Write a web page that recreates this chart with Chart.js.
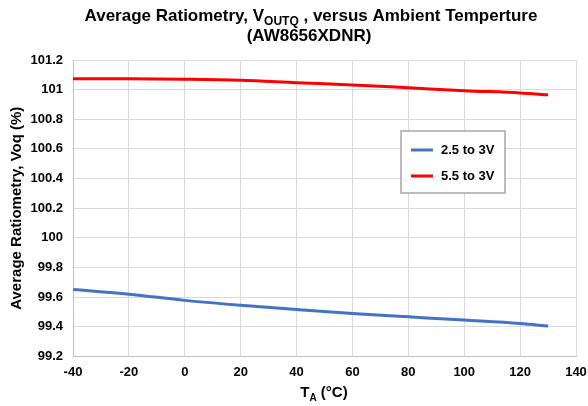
<!DOCTYPE html>
<html>
<head>
<meta charset="utf-8">
<script src="https://cdn.jsdelivr.net/npm/chart.js@4"></script>
<style>
  html, body { margin: 0; padding: 0; background: #fff; }
  #wrap { width: 588px; height: 406px; position: relative; }
</style>
</head>
<body>
<div id="wrap"><canvas id="ratioChart"></canvas></div>
<script>
// temperatures (°C) where the curves were read
const temps = [-40, -20, 0, 20, 40, 60, 80, 100, 120, 130];
const low = [99.651, 99.62, 99.578, 99.545, 99.516, 99.489, 99.467, 99.445, 99.422, 99.405];
const high = [101.074, 101.073, 101.07, 101.063, 101.047, 101.032, 101.013, 100.993, 100.978, 100.965];
const seriesNames = ['2.5 to 3V', '5.5 to 3V'];
const seriesColors = ['#4472c4', '#ff0000'];

const FONT = '"Liberation Sans", Arial, sans-serif';

function pts(ys) {
    return temps.map((t, i) => ({ x: t, y: ys[i] }));
}

// title + x axis title (need subscripts), and the boxed legend inside the plot
const extras = {
    id: 'extras',
    afterDraw(chart) {
        const ctx = chart.ctx;
        ctx.save();
        ctx.fillStyle = '#000';
        ctx.textBaseline = 'alphabetic';

        // title line 1 with subscript
        const parts = [
            { t: 'Average Ratiometry, V', f: 'bold 17px ' + FONT, dy: 0 },
            { t: 'OUTQ', f: 'bold 12px ' + FONT, dy: 4 },
            { t: ' , versus Ambient Temperture', f: 'bold 17px ' + FONT, dy: 0 }
        ];
        let w = 0;
        parts.forEach(p => { ctx.font = p.f; p.w = ctx.measureText(p.t).width; w += p.w; });
        let x = 311 - w / 2;
        parts.forEach(p => {
            ctx.font = p.f;
            ctx.textAlign = 'left';
            ctx.fillText(p.t, x, 21 + p.dy);
            x += p.w;
        });
        ctx.font = 'bold 17px ' + FONT;
        ctx.textAlign = 'center';
        ctx.fillText('(AW8656XDNR)', 309, 41);

        // x axis title T_A (°C)
        const xp = [
            { t: 'T', f: 'bold 15px ' + FONT, dy: 0 },
            { t: 'A', f: 'bold 10px ' + FONT, dy: 4 },
            { t: ' (°C)', f: 'bold 15px ' + FONT, dy: 0 }
        ];
        w = 0;
        xp.forEach(p => { ctx.font = p.f; p.w = ctx.measureText(p.t).width; w += p.w; });
        x = 324 - w / 2;
        xp.forEach(p => {
            ctx.font = p.f;
            ctx.textAlign = 'left';
            ctx.fillText(p.t, x, 397 + p.dy);
            x += p.w;
        });

        // legend box
        const bx = 401, by = 131, bw = 104, bh = 62;
        ctx.fillStyle = '#fff';
        ctx.fillRect(bx, by, bw, bh);
        ctx.strokeStyle = '#a6a6a6';
        ctx.lineWidth = 1.5;
        ctx.strokeRect(bx, by, bw, bh);
        ctx.font = 'bold 13px ' + FONT;
        ctx.textAlign = 'left';
        ctx.textBaseline = 'middle';
        chart.data.datasets.forEach((ds, i) => {
            const ly = by + 19 + i * 26;
            ctx.strokeStyle = ds.borderColor;
            ctx.lineWidth = 3;
            ctx.beginPath();
            ctx.moveTo(bx + 10, ly);
            ctx.lineTo(bx + 32, ly);
            ctx.stroke();
            ctx.fillStyle = '#000';
            ctx.fillText(ds.label, bx + 40, ly);
        });
        ctx.restore();
    }
};

const ctx = document.getElementById('ratioChart').getContext('2d');
const ratioChart = new Chart(ctx, {
    type: 'line',
    data: {
        datasets: [{
            label: seriesNames[0],
            data: pts(low),
            borderColor: seriesColors[0],
            backgroundColor: seriesColors[0],
            borderWidth: 3,
            pointRadius: 0,
            cubicInterpolationMode: 'monotone'
        }, {
            label: seriesNames[1],
            data: pts(high),
            borderColor: seriesColors[1],
            backgroundColor: seriesColors[1],
            borderWidth: 3,
            pointRadius: 0,
            cubicInterpolationMode: 'monotone'
        }]
    },
    options: {
        responsive: true,
        maintainAspectRatio: false,
        animation: false,
        layout: {
            padding: { top: 60, right: 12, bottom: 18, left: 0 }
        },
        plugins: {
            legend: { display: false },
            tooltip: { enabled: false },
            title: { display: false }
        },
        scales: {
            x: {
                type: 'linear',
                min: -40,
                max: 140,
                afterFit: s => { s.paddingLeft = 0; s.paddingRight = 0; },
                ticks: {
                    stepSize: 20,
                    color: '#000',
                    padding: 8,
                    font: { family: FONT, size: 13, weight: 'bold' },
                    maxRotation: 0
                },
                grid: { color: '#d9d9d9', lineWidth: 1, drawTicks: false },
                border: { color: '#bfbfbf', width: 1 }
            },
            y: {
                min: 99.2,
                max: 101.2,
                afterFit: s => { s.width = 73; },
                ticks: {
                    stepSize: 0.2,
                    color: '#000',
                    padding: 10,
                    font: { family: FONT, size: 13, weight: 'bold' },
                    callback: v => String(Number(v.toFixed(1)))
                },
                grid: { color: '#d9d9d9', lineWidth: 1, drawTicks: false },
                border: { color: '#bfbfbf', width: 1 },
                title: {
                    display: true,
                    text: 'Average Ratiometry, Voq (%)',
                    color: '#000',
                    font: { family: FONT, size: 15, weight: 'bold' },
                    padding: { top: 8, bottom: 1 }
                }
            }
        }
    },
    plugins: [extras]
});
</script>
</body>
</html>
